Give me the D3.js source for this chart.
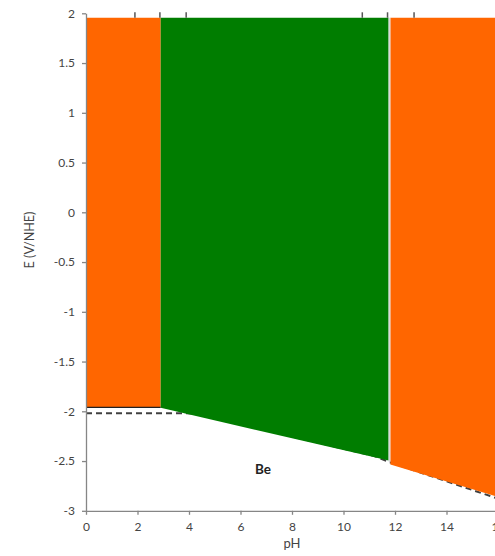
<!DOCTYPE html>
<html><head><meta charset="utf-8">
<script src="https://cdn.jsdelivr.net/npm/d3@7"></script>
<style>body{margin:0;background:#fff}svg{display:block}text{font-family:Lato,"Open Sans",sans-serif}</style>
</head><body>
<svg id="c" width="495" height="556"></svg>
<script>
// Data (pH, E in V/NHE)
const xTicks = [0,2,4,6,8,10,12,14,16];
const yTicks = [2,1.5,1,0.5,0,-0.5,-1,-1.5,-2,-2.5,-3];
const regionBe2Plus = [[0,1.955],[2.9,1.955],[2.9,-1.96],[0,-1.96]];
const regionBeOH2 = [[2.9,1.955],[11.75,1.955],[11.75,-2.495],[2.9,-1.965]];
const regionBeO2 = [[11.82,1.955],[16,1.955],[16,-2.86],[11.82,-2.535]];
const dashedLine = [[0,-2.02],[3.9,-2.02],[4.3,-2.025],[11.2,-2.45],[11.75,-2.507],[16,-2.878]];
const solidLine = [[0,-1.96],[2.9,-1.96]];
const dividerLine = [[11.785,1.955],[11.785,-2.51]];
const topMarks = [1.9,2.87,3.89,10.73,11.71,12.74];
const speciesLabels = [{name:"Be", x:6.87, y:-2.63}];

const svg = d3.select("#c");
const x = d3.scaleLinear().domain([0,16]).range([86,498]);
const y = d3.scaleLinear().domain([-3,2]).range([510.8,13.3]);
const line = d3.line().x(d=>x(d[0])).y(d=>y(d[1]));

// dashed boundary under fills
svg.append("path").attr("d",line(dashedLine)).attr("fill","none")
  .attr("stroke","#404040").attr("stroke-width",2).attr("stroke-dasharray","6,4");

const regions = [[regionBe2Plus,"#FF6600"],[regionBeOH2,"#007D00"],[regionBeO2,"#FF6600"]];
regions.forEach(([r,c])=>{
  svg.append("path").attr("d",line(r)+"Z").attr("fill",c);
});
svg.append("path").attr("d",line(dividerLine)).attr("stroke","#d8d8d8").attr("stroke-width",1.6);
svg.append("path").attr("d",line(solidLine)).attr("stroke","#222").attr("stroke-width",1.2);

// top marks
svg.selectAll(".tm").data(topMarks).enter().append("line")
  .attr("x1",d=>x(d)).attr("x2",d=>x(d)).attr("y1",y(2)-1).attr("y2",y(1.955))
  .attr("stroke","#555").attr("stroke-width",1.5);

// axes
const axCol="#868686", txtCol="#444";
const gx = svg.append("g").attr("transform",`translate(0,${y(-3)})`)
  .call(d3.axisBottom(x).tickValues(xTicks).tickSize(4).tickSizeOuter(0).tickFormat(d3.format("d")));
const gy = svg.append("g").attr("transform",`translate(${x(0)},0)`)
  .call(d3.axisLeft(y).tickValues(yTicks).tickSize(4).tickSizeOuter(0).tickFormat(d=>String(d)));
[gx,gy].forEach(g=>{
  g.select(".domain").attr("stroke",axCol).attr("stroke-width",1.3);
  g.selectAll(".tick line").attr("stroke",axCol).attr("stroke-width",1.3);
  g.selectAll(".tick text").attr("fill",txtCol).attr("font-size",12).attr("font-family","Lato, sans-serif");
});
gx.selectAll(".tick text").attr("dy","0").attr("y",20);
gy.selectAll(".tick text").attr("x",-11);

svg.append("text").attr("x",x(8)).attr("y",548).attr("text-anchor","middle")
  .attr("fill",txtCol).attr("font-size",13).text("pH");
svg.append("text").attr("transform","translate(34,240) rotate(-90)").attr("text-anchor","middle")
  .attr("fill",txtCol).attr("font-size",12.5).text("E (V/NHE)");

svg.selectAll(".sp").data(speciesLabels).enter().append("text")
  .attr("x",d=>x(d.x)).attr("y",d=>y(d.y)).attr("text-anchor","middle")
  .attr("font-weight","bold").attr("font-size",13.5).attr("fill","#222").text(d=>d.name);
</script>
</body></html>
